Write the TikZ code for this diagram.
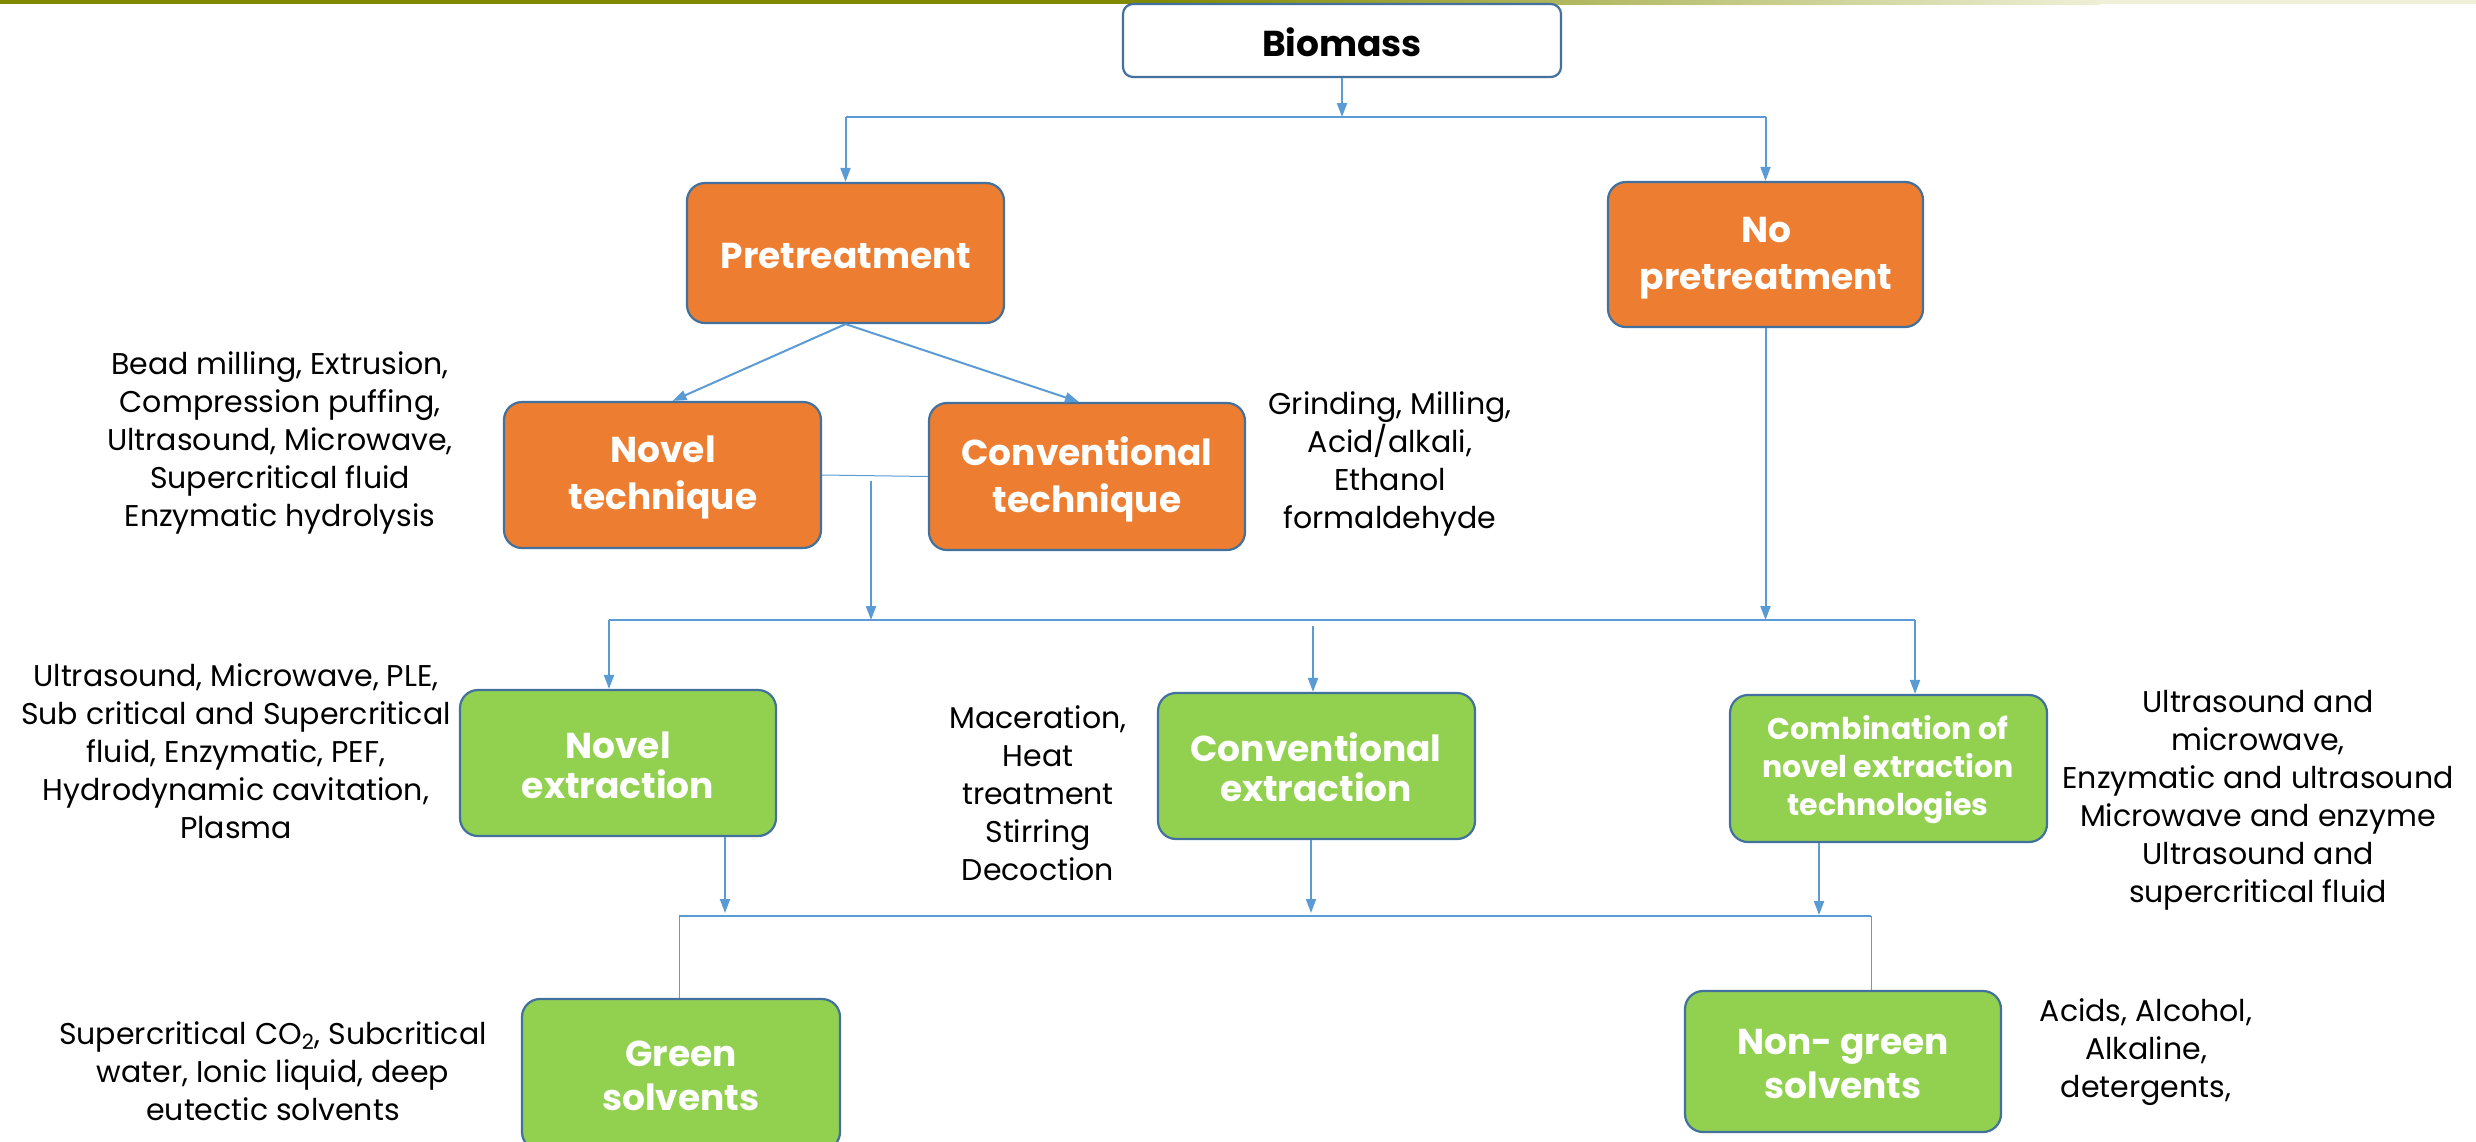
\documentclass[tikz,border=0pt]{standalone}
\usepackage{fontspec}
\setmainfont{Poppins}
\usetikzlibrary{arrows.meta,fit,calc}
\definecolor{bord}{HTML}{41719C}
\definecolor{orng}{HTML}{ED7D31}
\definecolor{grn}{HTML}{92D050}
\definecolor{arrc}{HTML}{5B9BD5}
\definecolor{barL}{RGB}{128,138,0}
\definecolor{barR}{RGB}{238,240,215}
\begin{document}
\begin{tikzpicture}[x=0.5pt,y=-0.5pt,
  box/.style={draw=bord, line width=1.1pt, rounded corners=9pt, inner sep=0pt},
  obox/.style={box, fill=orng},
  gbox/.style={box, fill=grn},
  lbl/.style={align=center, text=white, inner sep=0pt, font=\fontsize{18}{23.5}\selectfont\bfseries},
  glbl/.style={lbl, font=\fontsize{18}{20}\selectfont\bfseries},
  conn/.style={draw=arrc, line width=1pt},
  arr/.style={conn, -{Triangle[length=7pt,width=5pt]}},
  thinln/.style={draw=arrc, line width=0.5pt},
  desc/.style={align=center, font=\fontsize{15}{19}\selectfont, inner sep=0pt}
]
\useasboundingbox (0,0) rectangle (2476,1141);
% top bar
\fill[barL] (0,0) rectangle (1150,4);
\shade[left color=barL, right color=barR] (1150,0) rectangle (2100,4);
\fill[barR] (2100,0) rectangle (2476,4);

% boxes
\node[box, fill=white, rounded corners=5pt, fit={(1123,4) (1561,77)}] (biomass) {};
\node[obox, fit={(687,183) (1004,323)}] (pre) {};
\node[obox, fit={(1608,182) (1923,327)}] (nopre) {};
\node[obox, fit={(504,402) (821,548)}] (novtech) {};
\node[obox, fit={(929,403) (1245,550)}] (convtech) {};
\node[gbox, fit={(460,690) (776,836)}] (novext) {};
\node[gbox, fit={(1158,693) (1475,839)}] (convext) {};
\node[gbox, fit={(1730,695) (2047,842)}] (combo) {};
\node[gbox, fit={(522,999) (840,1150)}] (green) {};
\node[gbox, fit={(1685,991) (2001,1132)}] (nongreen) {};

% box labels
\node[lbl, text=black] (biomassT) at (1342,42) {Biomass};
\node[lbl] (preT) at (846,256) {Pretreatment};
\node[lbl] (nopreT) at (1766,258) {No\\pretreatment};
\node[lbl] (novtechT) at (663,477) {Novel\\technique};
\node[lbl] (convtechT) at (1087,479) {Conventional\\technique};
\node[glbl] (novextT) at (618,765) {Novel\\extraction};
\node[glbl] (convextT) at (1316,767) {Conventional\\extraction};
\node[lbl, font=\fontsize{15}{19}\selectfont\bfseries] (comboT) at (1888,770) {Combination of\\novel extraction\\technologies};
\node[lbl, font=\fontsize{18}{22}\selectfont\bfseries] (greenT) at (681,1076) {Green\\solvents};
\node[lbl, font=\fontsize{18}{22}\selectfont\bfseries] (nongreenT) at (1843,1064) {Non- green\\solvents};

% descriptions
\node[desc] (d1) at (280,443) {Bead milling, Extrusion,\\Compression puffing,\\Ultrasound, Microwave,\\Supercritical fluid\\Enzymatic hydrolysis};
\node[desc] (d2) at (1390,464) {Grinding, Milling,\\Acid/alkali,\\Ethanol\\formaldehyde};
\node[desc] (d3) at (236,751) {Ultrasound, Microwave, PLE,\\Sub critical and Supercritical\\fluid, Enzymatic, PEF,\\Hydrodynamic cavitation,\\Plasma};
\node[desc] (d4) at (1038,793) {Maceration,\\Heat\\treatment\\Stirring\\Decoction};
\node[desc] (d5) at (2258,800) {Ultrasound and\\microwave,\\Enzymatic and ultrasound\\Microwave and enzyme\\Ultrasound and\\supercritical fluid};
\node[desc] (d6) at (273,1071) {Supercritical CO\textsubscript{2}, Subcritical\\water, Ionic liquid, deep\\eutectic solvents};
\node[desc] (d7) at (2146,1052) {Acids, Alcohol,\\Alkaline,\\detergents,};

% connectors
\coordinate (j1) at (1342,117);
\draw[arr] (biomass.south) -- (j1);
\draw[conn] (pre.north |- j1) -- (nopre.north |- j1);
\draw[arr] (pre.north |- j1) -- (pre.north);
\draw[arr] (nopre.north |- j1) -- (nopre.north);

\draw[arr] (pre.south) -- ([xshift=5pt]novtech.north);
\draw[arr] (pre.south) -- ([xshift=-4pt]convtech.north);
\draw[thinln] (novtech.east) -- (convtech.west);

\coordinate (m1) at (871,481);
\coordinate (j2L) at (609,620);
\coordinate (j2R) at (1915,620);
\draw[arr] (m1) -- (m1 |- j2L);
\draw[arr] (nopre.south) -- (nopre.south |- j2L);
\draw[conn] (j2L) -- (j2R);
\draw[arr] (j2L) -- (j2L |- novext.north);
\draw[arr] (j2R) -- (j2R |- combo.north);
\coordinate (m2) at (1313,626);
\draw[arr] (m2) -- (m2 |- convext.north);

\coordinate (a1) at (725,913);
\coordinate (a2) at (1311,913);
\coordinate (a3) at (1819,915);
\draw[arr] (a1 |- novext.south) -- (a1);
\draw[arr] (a2 |- convext.south) -- (a2);
\draw[arr] (a3 |- combo.south) -- (a3);

\coordinate (j3L) at (679,916);
\coordinate (j3R) at (1871,916);
\draw[conn, line width=0.8pt] (j3L) -- (j3R);
\draw[thinln] (j3L) -- (j3L |- green.north);
\draw[thinln] (j3R) -- (j3R |- nongreen.north);
\end{tikzpicture}
\end{document}
